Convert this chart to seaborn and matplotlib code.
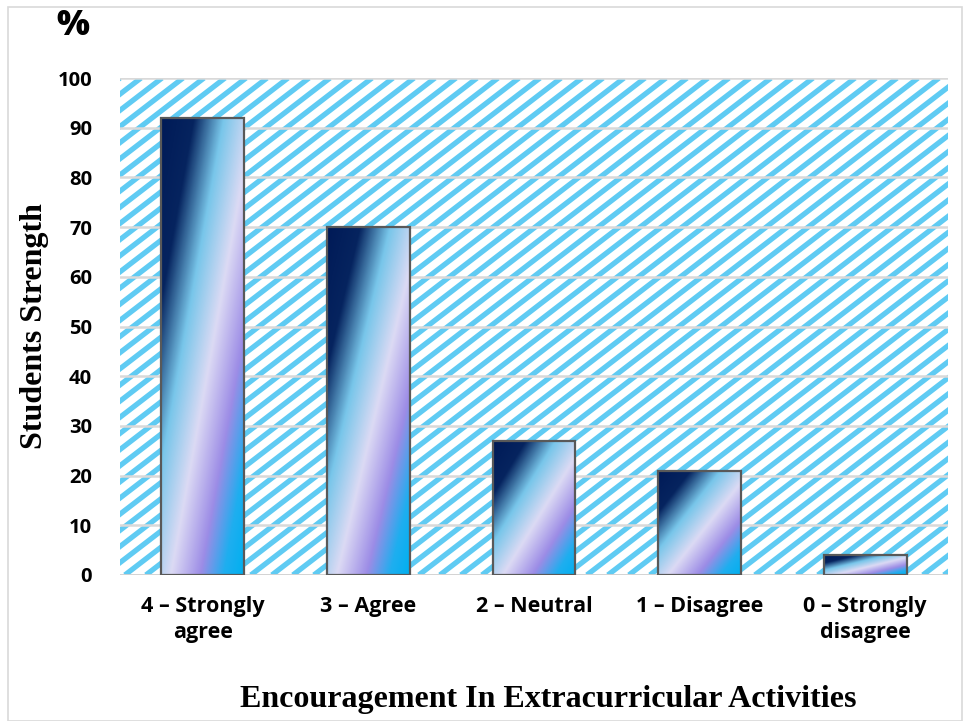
import numpy as np
import pandas as pd
import matplotlib
matplotlib.use("Agg")
import matplotlib.pyplot as plt
import seaborn as sns
from matplotlib.colors import LinearSegmentedColormap
from matplotlib.collections import LineCollection
from matplotlib.patches import Rectangle

categories = ["4 – Strongly\nagree", "3 – Agree", "2 – Neutral", "1 – Disagree", "0 – Strongly\ndisagree"]
values = [92, 70, 27, 21, 4]
yticks = [0, 10, 20, 30, 40, 50, 60, 70, 80, 90, 100]

df = pd.DataFrame({"cat": categories, "val": values})

sns.set_theme(style="white")
plt.rcParams["font.family"] = ["Open Sans", "DejaVu Sans"]

W, H = 968, 721
fig = plt.figure(figsize=(W / 100, H / 100), dpi=100)
ax = fig.add_axes([120 / W, 1 - 575 / H, (948 - 120) / W, (575 - 78) / H])

sns.barplot(data=df, x="cat", y="val", ax=ax, width=0.5,
            facecolor="none", edgecolor="#595959", linewidth=1.6, zorder=3)

ax.set_ylim(0, 100)
ax.set_xlim(-0.5, len(categories) - 0.5)
ax.set_yticks(yticks)
ax.set_yticklabels([str(t) for t in yticks], fontsize=14.5, fontweight="bold", color="black")
ax.set_xticks(range(len(categories)))
ax.set_xticklabels(categories, fontsize=15.5, fontweight="bold", color="black", linespacing=1.3)
ax.tick_params(axis="both", length=0, pad=8)
ax.tick_params(axis="y", pad=20)
ax.tick_params(axis="x", pad=15)
for s in ax.spines.values():
    s.set_visible(False)

# striped background
bbox = ax.get_window_extent()
aw, ah = bbox.width, bbox.height
period = 21.0
run = 1.3
segs = []
c = -ah * run
while c < aw + period:
    x0, y0 = c, 0
    x1, y1 = c + ah * run, ah
    segs.append([(x0 / aw, y0 / ah), (x1 / aw, y1 / ah)])
    c += period
lc = LineCollection(segs, colors="#5FCBF3", linewidths=3.8, transform=ax.transAxes, zorder=0)
lc.set_clip_path(Rectangle((0, 0), 1, 1, transform=ax.transAxes))
ax.add_collection(lc)

# gridlines
ax.yaxis.grid(True, color="#D9D9D9", linewidth=1.8, zorder=1)
ax.xaxis.grid(False)
ax.set_axisbelow(True)
for line in ax.get_ygridlines():
    line.set_zorder(1)

# gradient fill for bars
cmap = LinearSegmentedColormap.from_list(
    "grad",
    [(0.0, "#001A57"), (0.2, "#06245F"), (0.38, "#78C6EA"),
     (0.56, "#DCDAF4"), (0.74, "#9C8CE6"), (0.88, "#1FAEEF"), (1.0, "#00B0F0")])
u = np.linspace(0, 1, 200)
v = np.linspace(0, 1, 400)
U, V = np.meshgrid(u, v)
T = (U - (1 - V) + 1) / 2
for p in ax.patches:
    x, y = p.get_x(), p.get_y()
    w, h = p.get_width(), p.get_height()
    im = ax.imshow(T, cmap=cmap, extent=[x, x + w, y, y + h], origin="upper",
                   aspect="auto", zorder=2, interpolation="bilinear")
    im.set_clip_path(p)
ax.set_xlim(-0.5, len(categories) - 0.5)
ax.set_ylim(0, 100)
ax.axhline(0, color="#D0D0D0", linewidth=1.8, zorder=2.5)

ax.set_xlabel("")
ax.set_ylabel("")
fig.text(35 / W, 1 - 326 / H, "Students Strength", rotation=90, ha="center", va="center",
         fontsize=23, fontweight="bold", color="black", family=["Liberation Serif", "DejaVu Serif"])
fig.text(548 / W, 1 - 699 / H, "Encouragement In Extracurricular Activities", ha="center", va="center",
         fontsize=23, fontweight="bold", color="black", family=["Liberation Serif", "DejaVu Serif"])
fig.text(73 / W, 1 - 26 / H, "%", ha="center", va="center", fontsize=25, fontweight="heavy", color="black")

fig.patches.append(Rectangle((8 / W, 0), (962 - 8) / W, 1 - 7 / H, transform=fig.transFigure,
                             fill=False, edgecolor="#D9D9D9", linewidth=1.2))

fig.savefig("out.png", dpi=100)
